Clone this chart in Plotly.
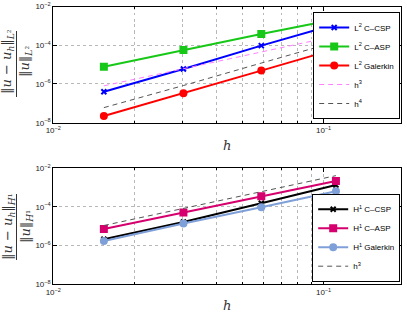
import plotly.graph_objects as go

# ---- data ----
h = [1/65, 1/33, 1/17, 1/9]

L2_CSP = [3.98e-7, 5.89e-6, 9.55e-5, 1.20e-3]
L2_ASP = [7.80e-6, 5.68e-5, 3.80e-4, 2.19e-3]
L2_GAL = [2.24e-8, 3.31e-7, 4.90e-6, 6.46e-5]
L2_H3 = [8.0e-7, 6.1e-6, 4.47e-5, 3.02e-4]
L2_H4 = [6.0e-8, 8.3e-7, 1.2e-5, 1.5e-4]

H1_CSP = [2.14e-6, 1.66e-5, 1.55e-4, 1.38e-3]
H1_ASP = [7.24e-6, 5.25e-5, 3.55e-4, 2.19e-3]
H1_GAL = [1.74e-6, 1.41e-5, 9.55e-5, 6.46e-4]
H1_H3 = [1.10e-5, 8.41e-5, 6.17e-4, 4.17e-3]

x_major = [0.01, 0.1]
x_major_text = ["10<sup>−2</sup>", "10<sup>−1</sup>"]
x_minor = [0.02, 0.03, 0.04, 0.05, 0.06, 0.07, 0.08, 0.09]
y_major = [1e-8, 1e-6, 1e-4, 1e-2]
y_major_text = ["10<sup>−8</sup>", "10<sup>−6</sup>", "10<sup>−4</sup>", "10<sup>−2</sup>"]

W, H = 407, 312
fig = go.Figure()

def tr(y, name, color, symbol, size, xa, ya, leg, dash=None, width=2):
    mode = "lines" if symbol is None else "lines+markers"
    m = None
    if symbol is not None:
        if symbol == "x-thin":
            m = dict(symbol=symbol, size=size, line=dict(color=color, width=2), color=color)
        else:
            m = dict(symbol=symbol, size=size, color=color, line=dict(width=0))
    fig.add_trace(go.Scatter(x=h, y=y, name=name, mode=mode, xaxis=xa, yaxis=ya,
                             legend=leg, line=dict(color=color, width=width, dash=dash),
                             marker=m))

tr(L2_CSP, "L<sup>2</sup> C–CSP", "#0000ff", "x-thin", 5, "x", "y", "legend")
tr(L2_ASP, "L<sup>2</sup> C–ASP", "#18c818", "square", 8, "x", "y", "legend")
tr(L2_GAL, "L<sup>2</sup> Galerkin", "#ff0000", "circle", 8, "x", "y", "legend")
tr(L2_H3, "h<sup>3</sup>", "#ff80ff", None, 0, "x", "y", "legend", dash="5px,4px", width=1)
tr(L2_H4, "h<sup>4</sup>", "#555555", None, 0, "x", "y", "legend", dash="5px,4px", width=1)

tr(H1_CSP, "H<sup>1</sup> C–CSP", "#000000", "x-thin", 5, "x2", "y2", "legend2")
tr(H1_ASP, "H<sup>1</sup> C–ASP", "#d5006d", "square", 8, "x2", "y2", "legend2")
tr(H1_GAL, "H<sup>1</sup> Galerkin", "#7f9fd8", "circle", 8, "x2", "y2", "legend2")
tr(H1_H3, "h<sup>3</sup>", "#555555", None, 0, "x2", "y2", "legend2", dash="5px,4px", width=1)

x0, x1 = 53.3 / W, 401.0 / W
top_dom = [1 - 122.7 / H, 1 - 6.5 / H]
bot_dom = [1 - 284.3 / H, 1 - 168.3 / H]

tickfont = dict(family="Liberation Sans, Arial", size=8, color="#222")
gridstyle = dict(showgrid=True, gridcolor="#b8b8b8", griddash="dot", gridwidth=1)

def xaxis(anchor):
    return dict(type="log", range=[-2, -0.7135], domain=[x0, x1], anchor=anchor,
                tickmode="array", tickvals=x_major, ticktext=x_major_text,
                ticks="inside", ticklen=4, tickcolor="#000", mirror="ticks",
                showline=True, linecolor="#000", linewidth=1, tickfont=tickfont,
                zeroline=False, automargin=False,
                minor=dict(tickmode="array", tickvals=x_minor, ticks="inside", ticklen=2,
                           tickcolor="#000", showgrid=True, gridcolor="#b8b8b8", griddash="dot"),
                **gridstyle)

def yaxis(anchor, dom):
    return dict(type="log", range=[-8, -2], domain=dom, anchor=anchor,
                tickmode="array", tickvals=y_major, ticktext=y_major_text,
                ticks="inside", ticklen=4, tickcolor="#000", mirror="ticks",
                showline=True, linecolor="#000", linewidth=1, tickfont=tickfont,
                zeroline=False, automargin=False, **gridstyle)

legstyle = dict(bgcolor="white", bordercolor="#000", borderwidth=1,
                font=dict(family="Liberation Sans, Arial", size=8, color="#000"),
                xanchor="right", yanchor="bottom", itemwidth=30, tracegroupgap=0)

fig.update_layout(
    template="none", autosize=False,
    width=W, height=H, margin=dict(l=0, r=0, t=0, b=0, pad=0),
    paper_bgcolor="white", plot_bgcolor="white", showlegend=True,
    xaxis=xaxis("y"), yaxis=yaxis("x", top_dom),
    xaxis2=xaxis("y2"), yaxis2=yaxis("x2", bot_dom),
    legend=dict(x=x1 - 0.002, y=1 - 119 / H, **legstyle),
    legend2=dict(x=x1 - 0.002, y=1 - 281.7 / H, **legstyle),
)

serif = dict(family="DejaVu Serif, Liberation Serif", size=13, color="#333")
ann = []
shapes = []
# y-axis titles as stacked fraction
for (cy, sub, top, bot) in [(62, "L²", 31, 97), (227, "H¹", 194, 260)]:
    yc = 1 - cy / H
    ann.append(dict(xref="paper", yref="paper", x=8 / W, y=yc, xanchor="center", yanchor="middle",
                    textangle=-90, showarrow=False, font=serif,
                    text=f"‖<i>u</i> − <i>u<sub>h</sub></i>‖<sub><i>{sub[0]}</i>{sub[1]}</sub>"))
    ann.append(dict(xref="paper", yref="paper", x=26 / W, y=yc, xanchor="center", yanchor="middle",
                    textangle=-90, showarrow=False, font=serif,
                    text=f"‖<i>u</i>‖<sub><i>{sub[0]}</i>{sub[1]}</sub>"))
    shapes.append(dict(type="line", xref="paper", yref="paper", x0=16.5 / W, x1=16.5 / W,
                       y0=1 - top / H, y1=1 - bot / H, line=dict(color="#333", width=1)))
# x-axis titles
for cy in [145, 305]:
    ann.append(dict(xref="paper", yref="paper", x=227 / W, y=1 - cy / H, xanchor="center",
                    yanchor="middle", showarrow=False,
                    font=dict(family="DejaVu Serif, Liberation Serif", size=13, color="#333"),
                    text="<i>h</i>"))
fig.update_layout(annotations=ann, shapes=shapes)

fig.write_html("out.html", config={"displayModeBar": False},
               post_script="document.body.style.margin='0';document.body.style.padding='0';"
                           "document.body.style.overflow='hidden';")
